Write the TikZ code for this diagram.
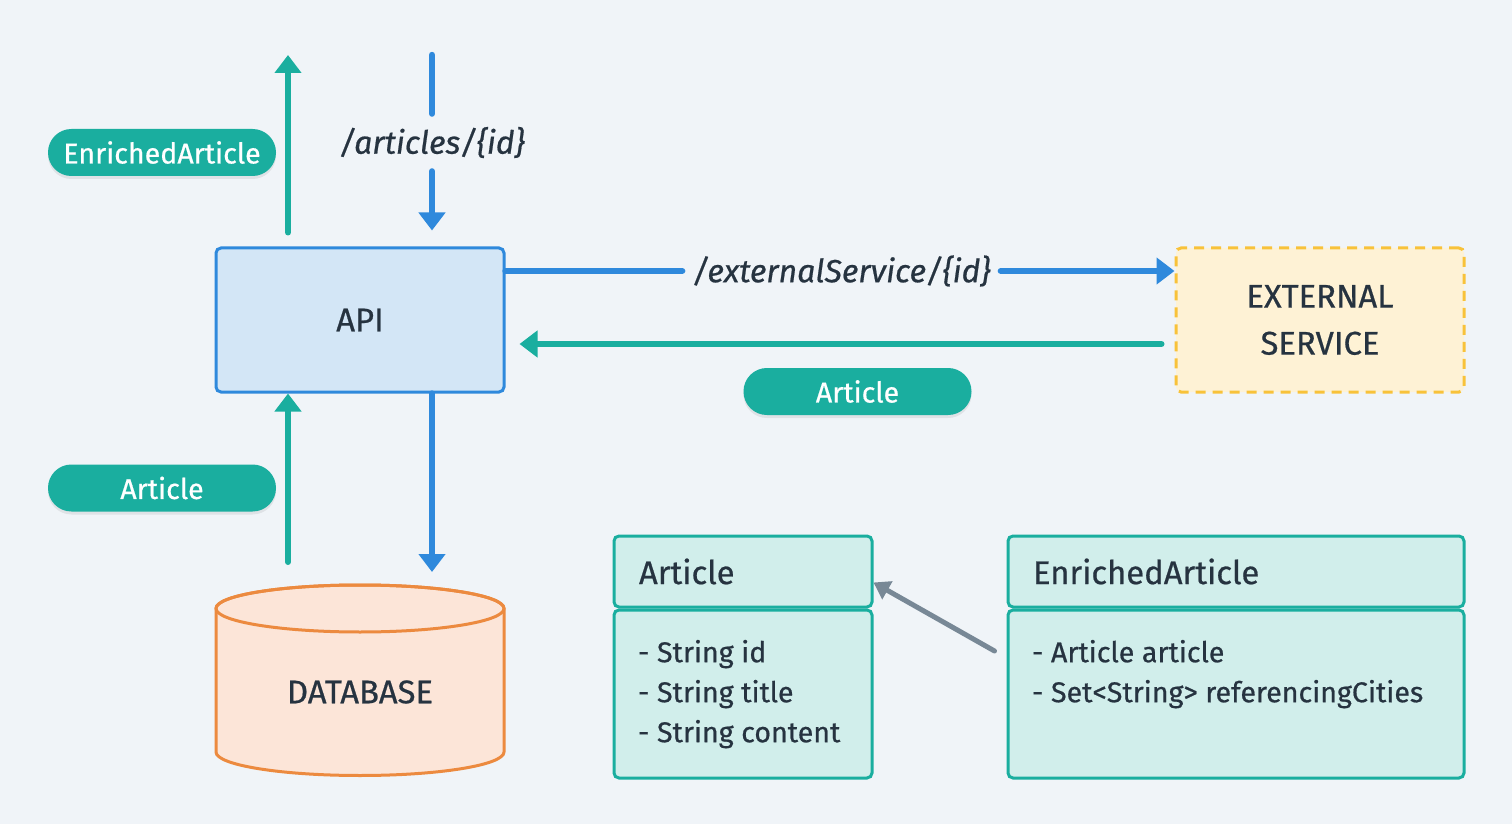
\documentclass[tikz,border=0pt]{standalone}
\usepackage{fontspec}
\setmainfont{Fira Sans}[UprightFeatures={FakeBold=0.6}, ItalicFeatures={FakeBold=0.6}]
\usetikzlibrary{positioning,arrows.meta,shadows}

\definecolor{bgcol}{HTML}{F0F4F8}
\definecolor{ink}{HTML}{263340}
\definecolor{apiblue}{HTML}{2F89DC}
\definecolor{apifill}{HTML}{D3E6F6}
\definecolor{teal}{HTML}{1AAE9F}
\definecolor{classfill}{HTML}{D1EEEB}
\definecolor{extline}{HTML}{F8C23A}
\definecolor{extfill}{HTML}{FEF2D5}
\definecolor{dbline}{HTML}{EC8A3F}
\definecolor{dbfill}{HTML}{FCE5D8}
\definecolor{linkgray}{HTML}{788896}

\begin{document}
\begin{tikzpicture}[x=0.5pt,y=-0.5pt,
			bigtext/.style={font=\fontsize{16.4}{23.5}\selectfont, text=ink},
			smalltext/.style={font=\fontsize{14.3}{20}\selectfont, text=ink},
			apibox/.style={bigtext, draw=apiblue, fill=apifill, line width=1.5pt, rounded corners=2.5pt, minimum width=144pt, minimum height=72pt},
			extbox/.style={bigtext, draw=extline, fill=extfill, line width=1.5pt, dash pattern=on 5pt off 3.5pt, rounded corners=2.5pt, minimum width=144pt, minimum height=72pt, align=center},
			pill/.style={smalltext, text=white, fill=teal, rounded corners=11.7pt, minimum width=114pt, minimum height=23.5pt, drop shadow={shadow xshift=0pt, shadow yshift=-1.5pt, opacity=0.07, fill=black}},
			pathlabel/.style={bigtext, font=\fontsize{16}{20}\selectfont\itshape, inner xsep=5pt, inner ysep=0pt, minimum height=28.5pt},
			classhead/.style={bigtext, draw=teal, fill=classfill, line width=1.5pt, rounded corners=2.5pt, minimum height=35.5pt, inner xsep=12.5pt, align=left},
			classbody/.style={draw=teal, fill=classfill, line width=1.5pt, rounded corners=2.5pt, minimum height=84pt},
			fields/.style={smalltext, inner sep=0pt, align=left},
			blueline/.style={draw=apiblue, line width=3.2pt, line cap=round},
			bluearrow/.style={blueline, -{Triangle[width=13pt,length=9pt]}},
			greenarrow/.style={draw=teal, line width=3pt, line cap=round, -{Triangle[width=13pt,length=9pt]}},
			grayarrow/.style={draw=linkgray, line width=2.5pt, line cap=round, -{Triangle[width=10pt,length=8pt]}},
		]
		
			%Background
			\fill[bgcol] (0,0) rectangle (1512,824);
			\useasboundingbox (0,0) rectangle (1512,824);
		
			%Nodes
			\node[apibox]	(api)	at (360,320)	{API};
			\node[extbox]	(ext)	at (1320,320)	{EXTERNAL\\SERVICE};
		
			%Database
			\draw[draw=dbline, fill=dbfill, line width=1.5pt] (216,608.5) -- (216,752) arc[start angle=180, end angle=0, x radius=144, y radius=23.5] -- (504,608.5) arc[start angle=0, end angle=-180, x radius=144, y radius=23.5] -- cycle;
			\draw[draw=dbline, line width=1.5pt] (360,608.5) ellipse[x radius=144, y radius=23.5];
			\node[bigtext]	(db)	at (360,692)	{DATABASE};
		
			%Labels
			\node[pill]	(enrpill)	at (162,152.5)	{EnrichedArticle};
			\node[pill]	(artpill)	at (162,488)	{Article};
			\node[pill]	(extpill)	at (857.5,391.5)	{Article};
			\node[pathlabel]	(artlbl)	at (432,142.5)	{/articles/\{id\}};
			\node[pathlabel]	(extlbl)	at (841.5,271)	{/externalService/\{id\}};
		
			%Free ends
			\coordinate (enrout)	at (288,55);
			\coordinate (artin)	at (432,55);
			\coordinate (dbout)	at (288,562);
			\coordinate (dbin)	at (432,572);
		
			%Lines
			\draw[greenarrow, shorten <=7pt]	(api.north -| enrout) -- (enrout);
			\draw[blueline]	(artin) -- (artlbl);
			\draw[bluearrow, shorten >=8pt]	(artlbl) -- (artlbl |- api.north);
			\draw[blueline]	([yshift=24.5pt]api.east) -- (extlbl);
			\draw[bluearrow]	(extlbl) -- ([yshift=24.5pt]ext.west);
			\draw[greenarrow, shorten <=6.5pt, shorten >=7pt]	([yshift=-12pt]ext.west) -- ([yshift=-12pt]api.east);
			\draw[greenarrow]	(dbout) -- (dbout |- api.south);
			\draw[bluearrow]	(api.south -| dbin) -- (dbin);
		
			%Classes
			\node[classhead, text width=104pt]	(arthead)	at (743,571.5)	{Article};
			\node[classbody, minimum width=129pt, below=0pt of arthead]	(artbody)	{};
			\node[fields, below right=15.5pt and 12.5pt of artbody.north west]	(artfields)	{- String id\\- String title\\- String content};
			\node[classhead, text width=203pt]	(enrhead)	at (1236,571.5)	{EnrichedArticle};
			\node[classbody, minimum width=228pt, below=0pt of enrhead]	(enrbody)	{};
			\node[fields, below right=15.5pt and 12.5pt of enrbody.north west]	(enrfields)	{- Article article\\- Set<String> referencingCities};
		
			\draw[grayarrow]	([xshift=-6pt,yshift=21.5pt]enrbody.west) -- ([yshift=-5.5pt]arthead.east);
		
		\end{tikzpicture}
\end{document}
